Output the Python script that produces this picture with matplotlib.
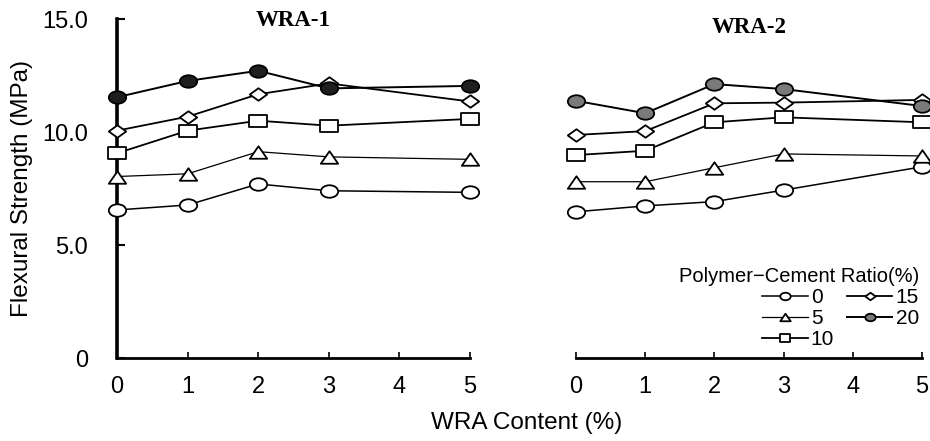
import numpy as np
import matplotlib
matplotlib.use('Agg')
import matplotlib.pyplot as plt
from matplotlib.path import Path

plt.rcParams['font.family'] = ['Liberation Sans', 'DejaVu Sans']

# WRA content (%) where values were measured
wra = [0, 1, 2, 3, 5]
ratios = ['0', '5', '10', '15', '20']

# flexural strength (MPa), WRA-1
wra1_pc0 = [6.55, 6.77, 7.70, 7.40, 7.33]
wra1_pc5 = [8.03, 8.15, 9.13, 8.90, 8.79]
wra1_pc10 = [9.06, 10.06, 10.50, 10.28, 10.58]
wra1_pc15 = [10.06, 10.68, 11.67, 12.15, 11.35]
wra1_pc20 = [11.54, 12.26, 12.71, 11.93, 12.04]

# flexural strength (MPa), WRA-2
wra2_pc0 = [6.47, 6.73, 6.92, 7.43, 8.46]
wra2_pc5 = [7.80, 7.80, 8.42, 9.03, 8.94]
wra2_pc10 = [8.98, 9.17, 10.43, 10.65, 10.43]
wra2_pc15 = [9.87, 10.04, 11.27, 11.30, 11.42]
wra2_pc20 = [11.38, 10.83, 12.12, 11.90, 11.15]

xticks = [0, 1, 2, 3, 4, 5]
yticks = [0, 5, 10, 15]
ytick_labels = ['0', '5.0', '10.0', '15.0']

# flattened marker shapes (wider than tall, like the scanned figure)
asp = 0.72
circ = Path.unit_circle()
ellipse = Path(circ.vertices * np.array([1.0, asp]), circ.codes)
tri = Path([(0, asp), (-1, -asp), (1, -asp), (0, asp)], closed=True)
sq = Path([(-1, -asp), (1, -asp), (1, asp), (-1, asp), (-1, -asp)], closed=True)
dia = Path([(0, asp), (1, 0), (0, -asp), (-1, 0), (0, asp)], closed=True)

markers = [ellipse, tri, sq, dia, ellipse]
widths = [1.1, 0.9, 1.3, 1.3, 1.4]


def draw_panel(ax, series, fill20, title, title_y):
    for i, vals in enumerate(series):
        fc = fill20 if i == 4 else 'white'
        ax.plot(wra, vals, color='black', lw=widths[i], marker=markers[i],
                ms=12.5, mfc=fc, mec='black', mew=1.3, clip_on=False,
                zorder=3 + i, label=ratios[i])
    ax.set_xlim(0, 5)
    ax.set_ylim(0, 15)
    ax.set_xticks(xticks)
    ax.tick_params(axis='x', direction='in', length=4, width=1.2,
                   labelsize=17, pad=13)
    for s in ['top', 'right']:
        ax.spines[s].set_visible(False)
    ax.spines['bottom'].set_linewidth(2.0)
    ax.text(0.5, title_y, title, transform=ax.transAxes, ha='center',
            va='center', fontsize=16.5, fontweight='bold',
            family='Liberation Serif')


fig = plt.figure(figsize=(9.3, 4.41), dpi=100)
ax1 = fig.add_axes([0.1258, 0.1882, 0.3796, 0.7687])
ax2 = fig.add_axes([0.6194, 0.1882, 0.3720, 0.7687])

draw_panel(ax1, [wra1_pc0, wra1_pc5, wra1_pc10, wra1_pc15, wra1_pc20],
           '#1e1e1e', 'WRA-1', 0.995)
draw_panel(ax2, [wra2_pc0, wra2_pc5, wra2_pc10, wra2_pc15, wra2_pc20],
           '#7a7a7a', 'WRA-2', 0.975)

ax1.set_yticks(yticks)
ax1.set_yticklabels(ytick_labels)
ax1.tick_params(axis='y', direction='in', length=6, width=1.5,
                labelsize=17, pad=21)
ax1.spines['left'].set_linewidth(2.6)

ax2.spines['left'].set_visible(False)
ax2.set_yticks([])

fig.text(0.024, 0.572, 'Flexural Strength (MPa)', rotation=90,
         ha='center', va='center', fontsize=17.5)
fig.text(0.566, 0.040, 'WRA Content (%)', ha='center', va='center',
         fontsize=17.5)

leg = ax2.legend(ncol=2, title='Polymer\u2212Cement Ratio(%)', frameon=False,
                 loc='upper right', bbox_to_anchor=(0.988, 0.395),
                 bbox_transform=fig.transFigure, alignment='right',
                 fontsize=15, title_fontsize=14.5, markerscale=0.6,
                 handlelength=2.2, handletextpad=0.15, columnspacing=0.6,
                 labelspacing=0.1, borderpad=0, borderaxespad=0)

fig.savefig('out.png', dpi=100)
